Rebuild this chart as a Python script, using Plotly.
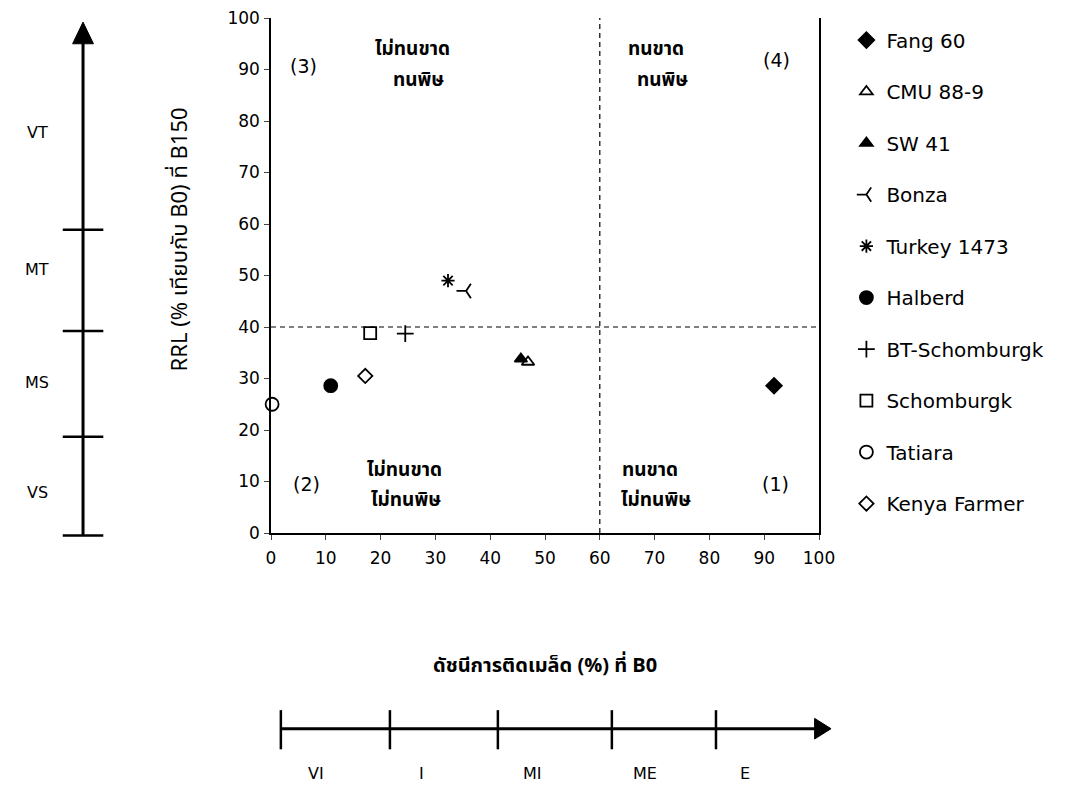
import plotly.graph_objects as go

# ---------------- data ----------------
varieties = ["Fang 60", "CMU 88-9", "SW 41", "Bonza", "Turkey 1473",
             "Halberd", "BT-Schomburgk", "Schomburgk", "Tatiara", "Kenya Farmer"]
seed_set_index = [91.8, 46.9, 45.6, 35.6, 32.3, 10.9, 24.5, 18.1, 0.2, 17.2]   # x (%) at B0
rrl_b150 = [28.6, 33.2, 33.8, 47.0, 49.0, 28.6, 38.7, 38.8, 25.0, 30.5]         # y (%)
symbols = ["diamond", "triangle-up", "triangle-up", "y-left-open", "asterisk-open",
           "circle", "cross-thin-open", "square", "circle", "diamond"]
fills = ["black", "white", "black", "black", "black", "black", "black", "white", "white", "white"]
sizes = [12, 11, 11, 12, 11, 13, 12, 12, 13, 11]

x_ticks = [0, 10, 20, 30, 40, 50, 60, 70, 80, 90, 100]
y_ticks = [0, 10, 20, 30, 40, 50, 60, 70, 80, 90, 100]
X_RANGE = [0, 100]
Y_RANGE = [0, 100]

x_threshold = 60
y_threshold = 40

# tolerance classes (left scale) and seed-set classes (bottom scale)
tol_bounds = [-0.5, 18.7, 39.2, 58.9]
tol_top = 96.0
tol_labels = ["VS", "MS", "MT", "VT"]
tol_label_y = [7.9, 29.3, 51.2, 77.8]
eff_bounds = [1.8, 21.7, 41.4, 62.2, 81.2]
eff_labels = ["VI", "I", "MI", "ME", "E"]
eff_label_x = [8.2, 27.4, 47.8, 68.2, 86.5]

quad_nums = [("(3)", 6.0, 90.7), ("(4)", 92.2, 91.9), ("(2)", 6.4, 9.5), ("(1)", 92.0, 9.5)]
quad_lines = [("ไม่ทนขาด", 25.9, 93.8), ("ทนพิษ", 27.0, 87.8),
              ("ทนขาด", 70.3, 93.8), ("ทนพิษ", 71.4, 87.8),
              ("ไม่ทนขาด", 24.3, 12.2), ("ไม่ทนพิษ", 24.6, 6.4),
              ("ทนขาด", 69.2, 12.2), ("ไม่ทนพิษ", 70.3, 6.4)]

FONT = "DejaVu Sans, Liberation Sans, Arial, sans-serif"
THAI = "Noto Sans Thai, Tahoma, Noto Sans, sans-serif"


def ypaper(v):
    return (v - Y_RANGE[0]) / (Y_RANGE[1] - Y_RANGE[0])


fig = go.Figure()
for i, name in enumerate(varieties):
    fig.add_trace(go.Scatter(
        x=[seed_set_index[i]], y=[rrl_b150[i]], mode="markers", name=name,
        legendgroup=name, cliponaxis=False,
        marker=dict(symbol=symbols[i], size=sizes[i], color=fills[i],
                    line=dict(color="black", width=1.8)),
    ))

shapes = []
# quadrant dashed lines
shapes.append(dict(type="line", xref="x", yref="y", x0=x_threshold, x1=x_threshold, y0=0, y1=100,
                   line=dict(color="black", width=1.2, dash="5px,4px")))
shapes.append(dict(type="line", xref="x", yref="y", x0=0, x1=100, y0=y_threshold, y1=y_threshold,
                   line=dict(color="black", width=1.2, dash="5px,4px")))

# left tolerance scale (paper coords so nothing is clipped)
LX = -0.343
shapes.append(dict(type="line", xref="paper", yref="paper", x0=LX, x1=LX,
                   y0=ypaper(tol_bounds[0]), y1=ypaper(tol_top),
                   line=dict(color="black", width=3)))
for b in tol_bounds:
    shapes.append(dict(type="line", xref="paper", yref="paper", x0=LX - 0.037, x1=LX + 0.037,
                       y0=ypaper(b), y1=ypaper(b), line=dict(color="black", width=2.5)))
shapes.append(dict(type="path", xref="paper", yref="paper",
                   path=f"M {LX-0.019},{ypaper(95.0)} L {LX+0.019},{ypaper(95.0)} L {LX},{ypaper(99.2)} Z",
                   fillcolor="black", line=dict(color="black", width=1)))

# bottom seed-set scale
BY = -0.380
shapes.append(dict(type="line", xref="x", yref="paper", x0=eff_bounds[0], x1=99.5, y0=BY, y1=BY,
                   line=dict(color="black", width=3)))
for b in eff_bounds:
    shapes.append(dict(type="line", xref="x", yref="paper", x0=b, x1=b, y0=BY + 0.036, y1=BY - 0.040,
                       line=dict(color="black", width=2.5)))
shapes.append(dict(type="path", xref="paper", yref="paper",
                   path=f"M 0.992,{BY+0.020} L 0.992,{BY-0.020} L 1.022,{BY} Z",
                   fillcolor="black", line=dict(color="black", width=1)))

annotations = []
for t, y in zip(tol_labels, tol_label_y):
    annotations.append(dict(text=t, xref="paper", yref="y", x=-0.427, y=y, showarrow=False,
                            xanchor="center", yanchor="middle",
                            font=dict(family=FONT, size=16, color="black")))
for t, x in zip(eff_labels, eff_label_x):
    annotations.append(dict(text=t, xref="x", yref="paper", x=x, y=-0.467, showarrow=False,
                            xanchor="center", yanchor="middle",
                            font=dict(family=FONT, size=16, color="black")))
for t, x, y in quad_nums:
    annotations.append(dict(text=t, xref="x", yref="y", x=x, y=y, showarrow=False,
                            xanchor="center", yanchor="middle",
                            font=dict(family=FONT, size=19, color="black")))
for t, x, y in quad_lines:
    annotations.append(dict(text="<b>" + t + "</b>", xref="x", yref="y",
                            x=x, y=y, showarrow=False, xanchor="center", yanchor="middle",
                            font=dict(family=THAI, size=19, color="black")))
# axis titles
annotations.append(dict(text="<b>ดัชนีการติดเมล็ด (%) ที่ B0</b>", xref="paper", yref="paper",
                        x=0.5, y=-0.259, showarrow=False, xanchor="center", yanchor="middle",
                        font=dict(family=THAI, size=20, color="black")))
annotations.append(dict(text="RRL (% เทียบกับ B0) ที่ B150", xref="paper", yref="paper",
                        x=-0.166, y=0.57, textangle=-90, showarrow=False,
                        xanchor="center", yanchor="middle",
                        font=dict(family=THAI, size=22, color="black")))

fig.update_layout(
    width=1073, height=788,
    margin=dict(l=263, r=262, t=10, b=263, autoexpand=False),
    paper_bgcolor="white", plot_bgcolor="white",
    showlegend=True,
    legend=dict(x=1.05, y=0.995, xanchor="left", yanchor="top",
                font=dict(family=FONT, size=20, color="black"),
                tracegroupgap=22.5, traceorder="grouped", itemwidth=30,
                maxheight=780, bgcolor="rgba(0,0,0,0)"),
    shapes=shapes, annotations=annotations,
    font=dict(family=FONT, color="black"),
)
fig.update_xaxes(range=X_RANGE, tickvals=x_ticks, ticks="outside", ticklen=5, tickwidth=1,
                 showline=True, linecolor="black", linewidth=1.5, showgrid=False, zeroline=False,
                 automargin=False, ticklabeloverflow="allow",
                 tickfont=dict(family=FONT, size=17, color="black"), ticklabelstandoff=4)
fig.update_yaxes(range=Y_RANGE, tickvals=y_ticks, ticks="outside", ticklen=5, tickwidth=1,
                 showline=True, linecolor="black", linewidth=1.5, mirror=True, showgrid=False,
                 zeroline=False, automargin=False, ticklabeloverflow="allow",
                 tickfont=dict(family=FONT, size=17, color="black"),
                 ticklabelstandoff=1)

fig.write_html("out.html")
